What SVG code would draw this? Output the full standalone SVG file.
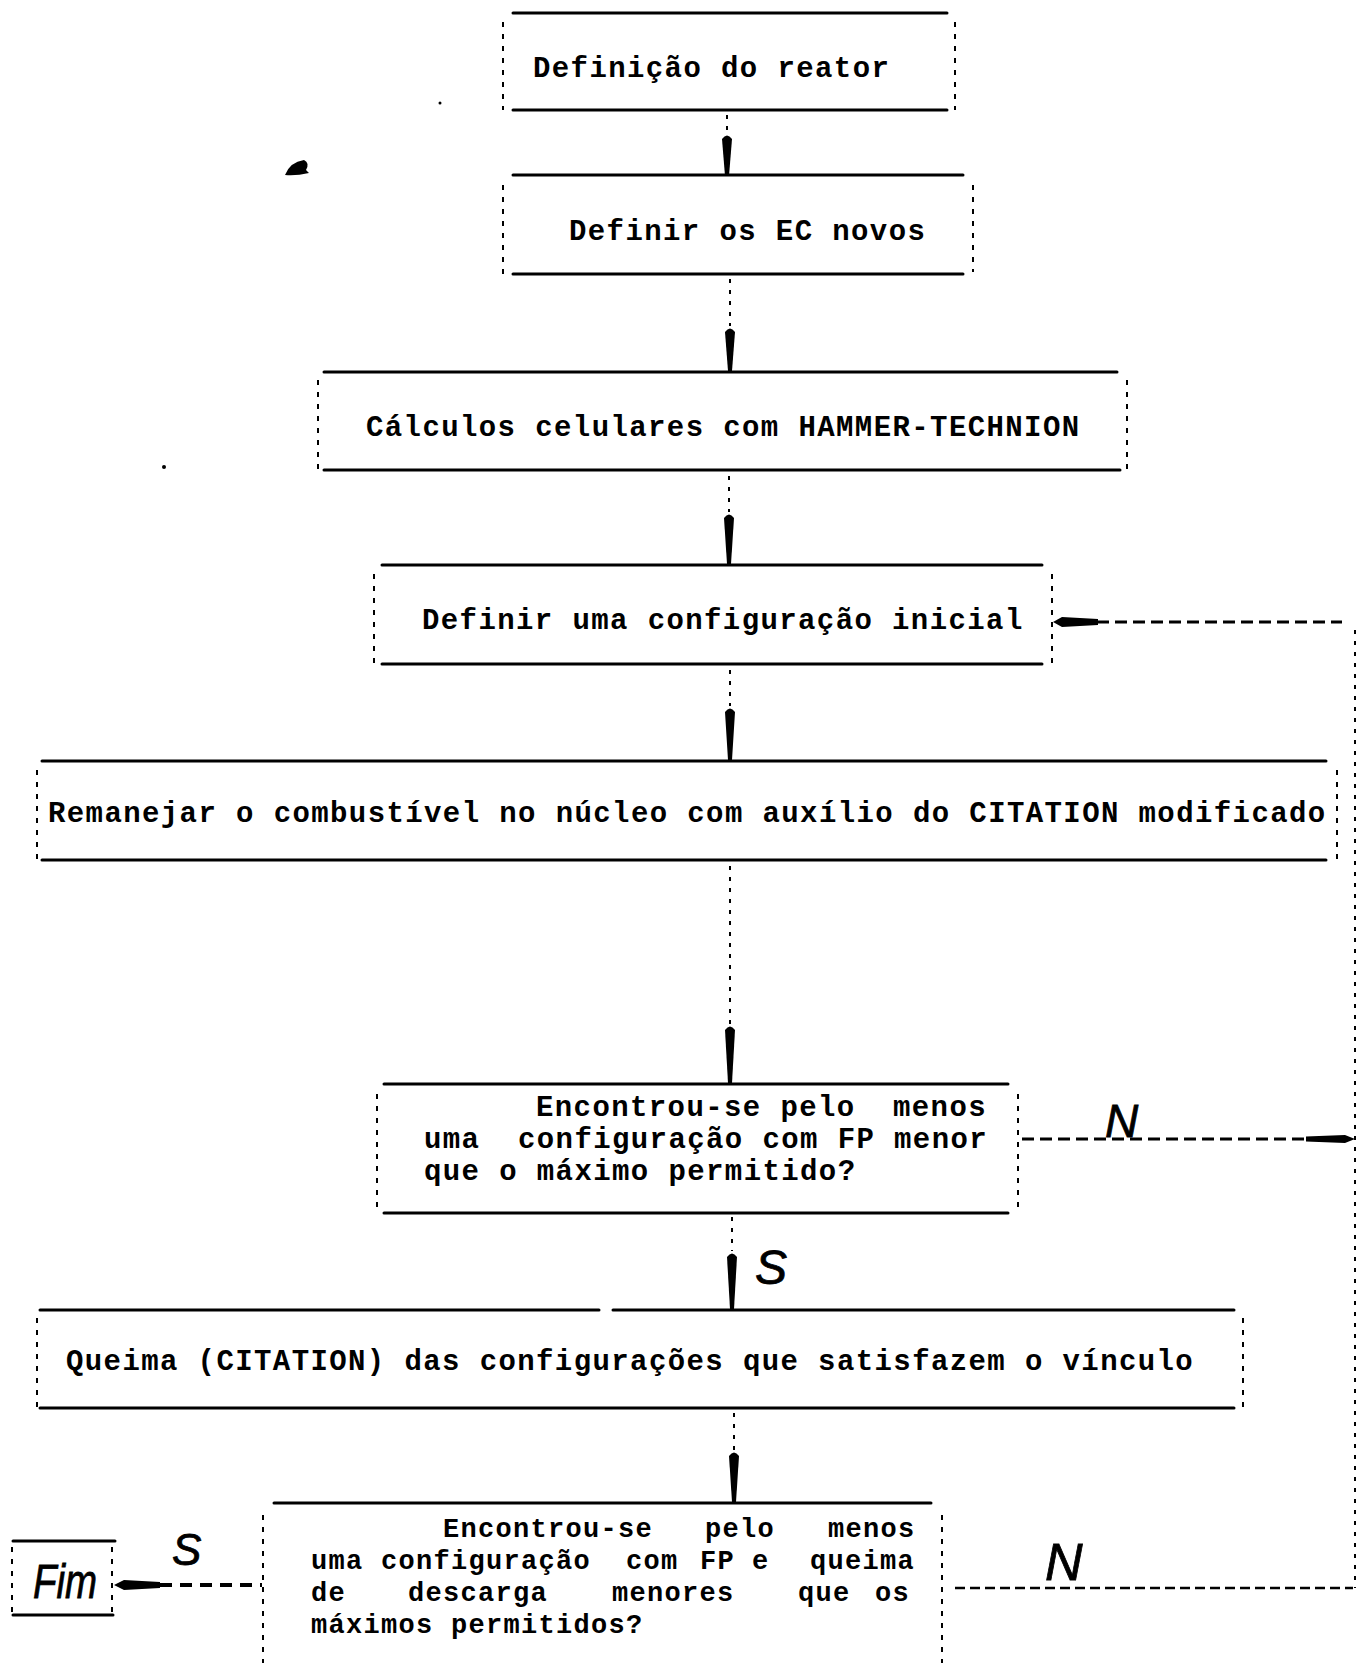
<svg xmlns="http://www.w3.org/2000/svg" width="1359" height="1663" viewBox="0 0 1359 1663">
<style>
.t{font-family:"Liberation Mono","DejaVu Sans Mono",monospace;font-weight:bold;font-size:29px;letter-spacing:1.4px;fill:#000}
.t8{font-size:27px;letter-spacing:1.3px}
.h{stroke:#000;stroke-width:3;stroke-linecap:round;fill:none}
.d{stroke:#000;stroke-width:2;stroke-dasharray:5 7;fill:none}
.c{stroke:#000;stroke-width:2;stroke-dasharray:4 7;fill:none}
.dl{stroke:#000;stroke-width:3;stroke-dasharray:12 6;fill:none}
.hw{font-family:"Liberation Sans","DejaVu Sans",sans-serif;font-style:italic;fill:#000;stroke:#000;stroke-width:0.8}
.ah{fill:#000;stroke:none}
</style>
<rect x="0" y="0" width="1359" height="1663" fill="#fff"/>

<g id="n1">
<line class="h" x1="513" y1="13" x2="947" y2="13"/>
<line class="h" x1="513" y1="110" x2="947" y2="110"/>
<line class="d" x1="503" y1="22" x2="503" y2="110"/>
<line class="d" x1="955" y1="22" x2="955" y2="110"/>
<text class="t" x="533" y="77">Definição do reator</text>
</g>

<g id="n2">
<line class="h" x1="513" y1="175" x2="963" y2="175"/>
<line class="h" x1="513" y1="274" x2="963" y2="274"/>
<line class="d" x1="503" y1="185" x2="503" y2="274"/>
<line class="d" x1="973" y1="185" x2="973" y2="272"/>
<text class="t" x="569" y="240">Definir os EC novos</text>
</g>

<g id="n3">
<line class="h" x1="324" y1="372" x2="1117" y2="372"/>
<line class="h" x1="324" y1="470" x2="1120" y2="470"/>
<line class="d" x1="318" y1="380" x2="318" y2="470"/>
<line class="d" x1="1127" y1="380" x2="1127" y2="470"/>
<text class="t" x="366" y="436">Cálculos celulares com HAMMER-TECHNION</text>
</g>

<g id="n4">
<line class="h" x1="382" y1="565" x2="1042" y2="565"/>
<line class="h" x1="382" y1="664" x2="1042" y2="664"/>
<line class="d" x1="374" y1="574" x2="374" y2="664"/>
<line class="d" x1="1052" y1="574" x2="1052" y2="664"/>
<text class="t" x="422" y="629">Definir uma configuração inicial</text>
</g>

<g id="n5">
<line class="h" x1="42" y1="761" x2="1326" y2="761"/>
<line class="h" x1="42" y1="860" x2="1326" y2="860"/>
<line class="d" x1="37" y1="770" x2="37" y2="860"/>
<line class="d" x1="1337" y1="770" x2="1337" y2="864"/>
<text class="t" x="48" y="822">Remanejar o combustível no núcleo com auxílio do CITATION modificado</text>
</g>

<g id="n6">
<line class="h" x1="384" y1="1084" x2="1008" y2="1084"/>
<line class="h" x1="384" y1="1213" x2="1008" y2="1213"/>
<line class="d" x1="377" y1="1094" x2="377" y2="1213"/>
<line class="d" x1="1018" y1="1094" x2="1018" y2="1213"/>
<text class="t" y="1116"><tspan x="536">Encontrou-se pelo</tspan><tspan x="893">menos</tspan></text>
<text class="t" y="1148"><tspan x="424">uma</tspan><tspan x="518">configuração com FP menor</tspan></text>
<text class="t" x="424" y="1180">que o máximo permitido?</text>
</g>

<g id="n7">
<line class="h" x1="40" y1="1310" x2="599" y2="1310"/>
<line class="h" x1="613" y1="1310" x2="1234" y2="1310"/>
<line class="h" x1="40" y1="1408" x2="1234" y2="1408"/>
<line class="d" x1="37" y1="1318" x2="37" y2="1408"/>
<line class="d" x1="1243" y1="1318" x2="1243" y2="1408"/>
<text class="t" x="66" y="1370">Queima (CITATION) das configurações que satisfazem o vínculo</text>
</g>

<g id="n8">
<line class="h" x1="274" y1="1503" x2="931" y2="1503"/>
<line class="d" x1="263" y1="1515" x2="263" y2="1663"/>
<line class="d" x1="942" y1="1515" x2="942" y2="1663"/>
<text class="t t8" y="1537"><tspan x="443">Encontrou-se</tspan><tspan x="705">pelo</tspan><tspan x="828">menos</tspan></text>
<text class="t t8" y="1569"><tspan x="311">uma</tspan><tspan x="381">configuração</tspan><tspan x="626">com</tspan><tspan x="700">FP</tspan><tspan x="752">e</tspan><tspan x="810">queima</tspan></text>
<text class="t t8" y="1601"><tspan x="311">de</tspan><tspan x="408">descarga</tspan><tspan x="612">menores</tspan><tspan x="798">que</tspan><tspan x="875">os</tspan></text>
<text class="t t8" x="311" y="1633">máximos permitidos?</text>
</g>

<g id="fim">
<line class="h" x1="13" y1="1541" x2="115" y2="1541"/>
<line class="h" x1="13" y1="1615" x2="113" y2="1615"/>
<line class="d" x1="12" y1="1547" x2="12" y2="1614"/>
<line class="d" x1="112" y1="1547" x2="112" y2="1614"/>
<text class="hw" x="33" y="1598" font-size="48" textLength="64" lengthAdjust="spacingAndGlyphs" stroke-width="1.2">Fim</text>
</g>

<g id="connectors">
<line class="c" x1="727" y1="115" x2="727" y2="133"/>
<path class="ah" d="M722,139 Q727,132 732,139 L729,176 L725,176 Z"/>
<line class="c" x1="730" y1="279" x2="730" y2="326"/>
<path class="ah" d="M725,332 Q730,325 735,332 L732,371 L728,371 Z"/>
<line class="c" x1="729" y1="476" x2="729" y2="512"/>
<path class="ah" d="M724,518 Q729,511 734,518 L731,564 L727,564 Z"/>
<line class="c" x1="730" y1="670" x2="730" y2="706"/>
<path class="ah" d="M725,712 Q730,705 735,712 L732,760 L728,760 Z"/>
<line class="c" x1="730" y1="866" x2="730" y2="1024"/>
<path class="ah" d="M725,1030 Q730,1023 735,1030 L732,1083 L728,1083 Z"/>
<line class="c" x1="732" y1="1217" x2="732" y2="1251"/>
<path class="ah" d="M727,1257 Q732,1250 737,1257 L734,1309 L730,1309 Z"/>
<line class="c" x1="734" y1="1413" x2="734" y2="1450"/>
<path class="ah" d="M729,1456 Q734,1449 739,1456 L736,1502 L732,1502 Z"/>

<line class="dl" x1="1097" y1="622" x2="1342" y2="622"/>
<path class="ah" d="M1053,622 L1062,617 L1098,619 L1098,625 L1062,627 Z"/>
<line class="c" x1="1355" y1="630" x2="1355" y2="1588"/>

<line class="dl" x1="1022" y1="1139" x2="1308" y2="1139"/>
<path class="ah" d="M1355,1139 L1345,1135 L1306,1136.5 L1306,1141.5 L1345,1143 Z"/>

<line class="dl" x1="955" y1="1588" x2="1353" y2="1588" style="stroke-width:2.5;stroke-dasharray:10 5"/>

<line class="dl" x1="160" y1="1585" x2="262" y2="1585" style="stroke-width:4;stroke-dasharray:12 8"/>
<path class="ah" d="M114,1585 L124,1580 L160,1582 L160,1588 L124,1590 Z"/>

<text class="hw" x="1105" y="1137" font-size="46">N</text>
<text class="hw" x="755" y="1284" font-size="48">S</text>
<text class="hw" x="172" y="1565" font-size="44">S</text>
<text class="hw" x="1045" y="1580" font-size="52">N</text>
</g>

<path d="M285,175 Q290,162 304,160 Q310,163 306,170 L309,173 Q296,176 285,175 Z" fill="#000"/>
<circle cx="440" cy="103" r="1.5" fill="#000"/>
<circle cx="164" cy="467" r="2" fill="#000"/>
</svg>
